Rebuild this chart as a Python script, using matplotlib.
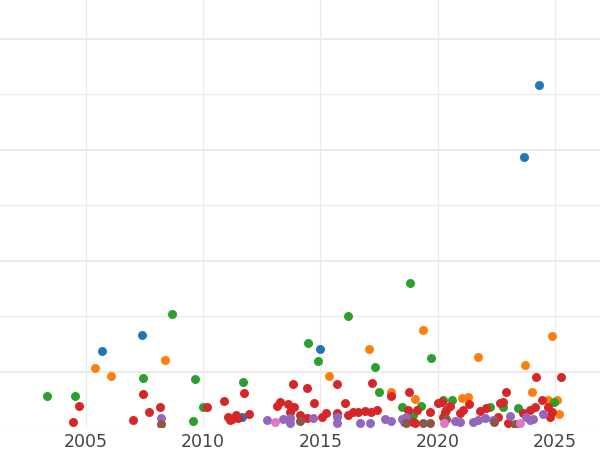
import sys
import matplotlib
matplotlib.use("Agg")
import matplotlib.pyplot as plt
from matplotlib.ticker import MultipleLocator

# ---------------------------------------------------------
# Data (year, value) per group
# ---------------------------------------------------------
blue_year = [2024.32, 2023.68, 2014.98, 2005.70, 2007.40, 2011.66]
blue_val = [6.16, 4.86, 1.41, 1.37, 1.66, 0.18]

orange_year = [2005.40, 2006.08, 2008.38, 2015.37, 2017.07, 2019.37, 2018.01,
               2019.03, 2021.72, 2024.87, 2023.72, 2024.02, 2021.03, 2021.29,
               2024.70, 2025.08, 2025.17]
orange_val = [1.06, 0.92, 1.21, 0.92, 1.41, 1.75, 0.63,
              0.50, 1.26, 1.64, 1.12, 0.63, 0.52, 0.54,
              0.49, 0.49, 0.23]

green_year = [2003.35, 2004.55, 2008.68, 2007.44, 2009.66, 2009.57, 2010.00,
              2011.70, 2014.47, 2014.90, 2016.18, 2017.33, 2017.50, 2018.82,
              2019.71, 2018.48, 2018.95, 2019.29, 2020.23, 2020.61, 2022.23,
              2022.78, 2023.42, 2024.95]
green_val = [0.56, 0.56, 2.04, 0.88, 0.86, 0.11, 0.36,
             0.81, 1.51, 1.19, 2.00, 1.08, 0.63, 2.59,
             1.24, 0.36, 0.22, 0.38, 0.49, 0.49, 0.36,
             0.36, 0.34, 0.45]

red_year = [2004.72, 2004.46, 2007.44, 2007.02, 2007.70, 2008.17, 2010.17,
            2010.89, 2011.75, 2011.96, 2011.06, 2011.23, 2011.41, 2011.49,
            2011.15, 2013.83, 2014.43, 2013.15, 2013.28, 2013.62, 2013.88,
            2013.71, 2014.13, 2014.43, 2014.73, 2015.07, 2015.24, 2015.71,
            2015.71, 2016.05, 2016.18, 2016.39, 2016.60, 2016.90, 2017.16,
            2017.41, 2017.20, 2018.01, 2018.78, 2018.73, 2019.12, 2018.69,
            2018.95, 2019.03, 2019.67, 2020.01, 2020.52, 2020.31, 2020.23,
            2020.95, 2021.08, 2021.33, 2021.80, 2022.06, 2022.57, 2022.65,
            2022.78, 2022.91, 2022.99, 2023.63, 2023.93, 2023.72, 2024.19,
            2025.25, 2024.15, 2024.44, 2024.70, 2024.87, 2024.78, 2020.18,
            2020.35]
red_val = [0.38, 0.09, 0.59, 0.13, 0.27, 0.36, 0.36,
           0.47, 0.61, 0.23, 0.18, 0.14, 0.22, 0.16,
           0.13, 0.77, 0.70, 0.38, 0.45, 0.41, 0.36,
           0.27, 0.22, 0.16, 0.43, 0.18, 0.25, 0.77,
           0.25, 0.43, 0.22, 0.27, 0.27, 0.29, 0.27,
           0.31, 0.79, 0.56, 0.63, 0.31, 0.31, 0.14,
           0.09, 0.07, 0.27, 0.43, 0.38, 0.27, 0.18,
           0.25, 0.31, 0.41, 0.29, 0.34, 0.18, 0.43,
           0.45, 0.63, 0.07, 0.25, 0.31, 0.23, 0.90,
           0.90, 0.36, 0.49, 0.36, 0.27, 0.18, 0.45,
           0.31]

purple_year = [2008.21, 2012.73, 2013.41, 2013.71, 2013.71, 2014.69, 2015.71,
               2015.71, 2016.69, 2017.11, 2017.75, 2018.01, 2018.48, 2018.56,
               2018.65, 2020.74, 2020.95, 2021.50, 2021.72, 2022.01, 2022.36,
               2023.08, 2023.76, 2023.93, 2024.06, 2024.49]
purple_val = [0.16, 0.13, 0.14, 0.16, 0.07, 0.16, 0.18,
              0.07, 0.07, 0.07, 0.14, 0.11, 0.14, 0.09,
              0.18, 0.11, 0.09, 0.09, 0.13, 0.16, 0.13,
              0.20, 0.18, 0.13, 0.14, 0.23]

brown_year = [2008.21, 2014.13, 2018.65, 2019.37, 2019.67, 2020.35, 2022.40, 2023.29]
brown_val = [0.05, 0.11, 0.07, 0.07, 0.07, 0.14, 0.09, 0.05]

pink_year = [2013.07, 2020.27, 2023.51]
pink_val = [0.09, 0.07, 0.07]

year_ticks = [2005, 2010, 2015, 2020, 2025]


def main() -> int:
    fig = plt.figure(figsize=(6, 4.5), dpi=100)
    # axes run off the left and top edges, as in the reference
    ax = fig.add_axes([0, 23 / 450, 1, 427 / 450])

    groups = [
        (blue_year, blue_val, "tab:blue"),
        (orange_year, orange_val, "tab:orange"),
        (green_year, green_val, "tab:green"),
        (red_year, red_val, "tab:red"),
        (purple_year, purple_val, "tab:purple"),
        (brown_year, brown_val, "tab:brown"),
        (pink_year, pink_val, "tab:pink"),
    ]
    for xs, ys, color in groups:
        ax.scatter(xs, ys, s=42, color=color, linewidths=0, zorder=3)

    ax.set_xlim(2001.35, 2026.91)
    ax.set_ylim(0, 427 / 55.5)

    # Grid: major lines at odd values, minor lines in between
    ax.set_xticks(year_ticks)
    ax.yaxis.set_major_locator(MultipleLocator(2, offset=1))
    ax.yaxis.set_minor_locator(MultipleLocator(2))
    ax.grid(True, which="major", axis="y", color="#ebebeb", linewidth=1.4, zorder=0)
    ax.grid(True, which="minor", axis="y", color="#ebebeb", linewidth=0.9, zorder=0)
    ax.grid(True, which="major", axis="x", color="#ebebeb", linewidth=0.9, zorder=0)
    ax.set_axisbelow(True)

    ax.tick_params(axis="x", length=0, pad=4, labelsize=12.5, labelcolor="#444444")
    ax.tick_params(axis="y", which="both", length=0, labelleft=False)
    for spine in ax.spines.values():
        spine.set_visible(False)

    fig.savefig("out.png", dpi=100)
    plt.close(fig)
    return 0


if __name__ == "__main__":
    sys.exit(main())
